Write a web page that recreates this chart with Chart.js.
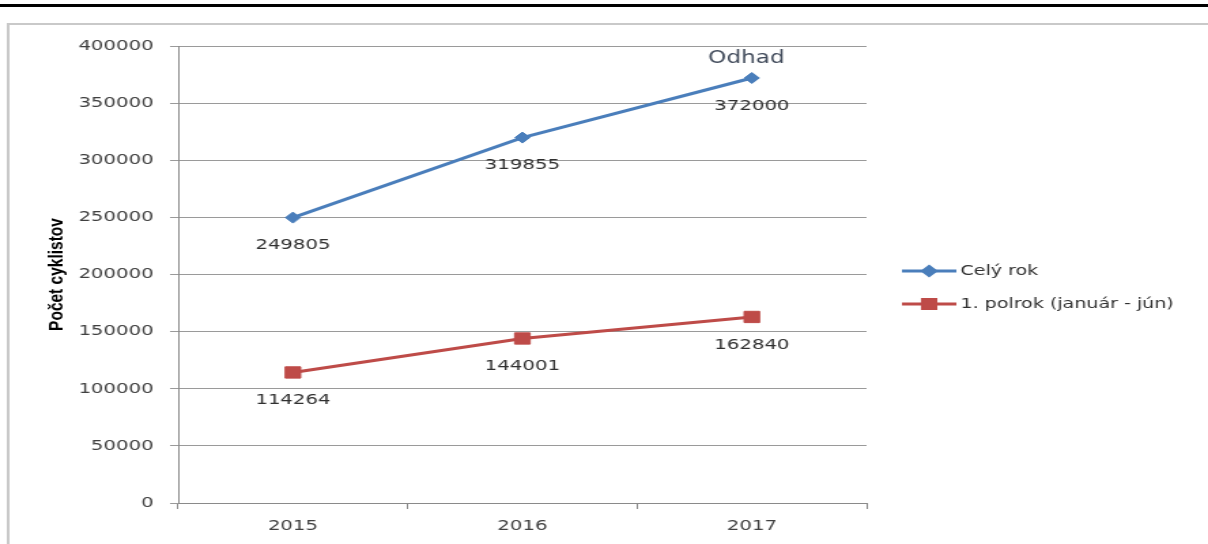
<!DOCTYPE html>
<html><head><meta charset="utf-8">
<script src="https://cdn.jsdelivr.net/npm/chart.js@4"></script>
<style>
html,body{margin:0;padding:0;background:#fff;overflow:hidden;width:1208px;height:544px;}
#wrap{position:absolute;left:0;top:0;width:888px;height:544px;transform:scaleX(1.3604);transform-origin:0 0;}
</style></head><body>
<div id="wrap"><canvas id="c"></canvas></div>
<script>
const categories = ['2015', '2016', '2017'];
const fullYear = [249805, 319855, 372000];
const firstHalf = [114264, 144001, 162840];
const seriesNames = ['Celý rok', '1. polrok (január - jún)'];
const fullYearNotes = ['', '', 'Odhad'];
const yMin = 0, yMax = 400000, yStep = 50000;
const axisTitle = 'Počet cyklistov';

const BLUE = '#4A7EBB', RED = '#BE4B48';
const FONT = 'DejaVu Sans';
const notes = [fullYearNotes, null];

const framePlugin = {
  id: 'frame',
  beforeDraw(chart) {
    const ctx = chart.ctx;
    ctx.save();
    ctx.fillStyle = '#fff';
    ctx.fillRect(0, 0, chart.width, chart.height);
    ctx.fillStyle = '#000';
    ctx.fillRect(0, 4, chart.width, 3);
    ctx.strokeStyle = '#c9c9c9';
    ctx.lineWidth = 2;
    ctx.beginPath();
    ctx.moveTo(6, chart.height + 5);
    ctx.lineTo(6, 24);
    ctx.lineTo(chart.width + 5, 24);
    ctx.stroke();
    ctx.restore();
  }
};

const valueLabelPlugin = {
  id: 'valueLabels',
  afterDatasetsDraw(chart) {
    const ctx = chart.ctx;
    ctx.save();
    chart.data.datasets.forEach((ds, i) => {
      const meta = chart.getDatasetMeta(i);
      meta.data.forEach((pt, j) => {
        ctx.fillStyle = '#303030';
        ctx.font = '14.5px "' + FONT + '"';
        ctx.textAlign = 'center';
        ctx.textBaseline = 'middle';
        ctx.fillText(String(ds.data[j]), pt.x, pt.y + 28);
        const n = notes[i];
        if (n && n[j]) {
          ctx.fillStyle = '#404a5a';
          ctx.font = '17px "' + FONT + '"';
          ctx.fillText(n[j], pt.x - 4, pt.y - 19);
        }
      });
    });
    ctx.restore();
  }
};

const legendPlugin = {
  id: 'sideLegend',
  afterDraw(chart) {
    const ctx = chart.ctx;
    ctx.save();
    const x0 = 663, x1 = 703, tx = 706;
    const ys = [271, 304];
    chart.data.datasets.forEach((ds, i) => {
      const y = ys[i];
      ctx.strokeStyle = ds.borderColor;
      ctx.lineWidth = 3;
      ctx.beginPath();
      ctx.moveTo(x0, y);
      ctx.lineTo(x1, y);
      ctx.stroke();
      Chart.helpers.drawPoint(ctx, {
        pointStyle: ds.pointStyle,
        radius: ds.pointRadius * 0.8,
        borderWidth: 1
      }, (x0 + x1) / 2, y);
      ctx.fillStyle = ds.backgroundColor;
      ctx.fill();
      ctx.fillStyle = '#303030';
      ctx.font = '14px "' + FONT + '"';
      ctx.textAlign = 'left';
      ctx.textBaseline = 'middle';
      ctx.fillText(ds.label, tx, y);
    });
    ctx.restore();
  }
};

new Chart(document.getElementById('c'), {
  type: 'line',
  data: {
    labels: categories,
    datasets: [
      {
        label: seriesNames[0], data: fullYear,
        borderColor: BLUE, backgroundColor: BLUE, borderWidth: 3,
        pointStyle: 'rectRot', pointRadius: 5.5, pointBorderWidth: 1,
        tension: 0
      },
      {
        label: seriesNames[1], data: firstHalf,
        borderColor: RED, backgroundColor: RED, borderWidth: 3,
        pointStyle: 'rect', pointRadius: 8, pointBorderWidth: 1,
        tension: 0
      }
    ]
  },
  options: {
    responsive: true,
    maintainAspectRatio: false,
    animation: false,
    devicePixelRatio: 1,
    layout: { padding: { left: 30, right: 251, top: 46, bottom: 0 } },
    plugins: { legend: { display: false }, tooltip: { enabled: false } },
    scales: {
      x: {
        type: 'category',
        offset: true,
        grid: { display: true, drawOnChartArea: false, drawTicks: true, tickLength: 6, offset: true, color: '#8a8a8a' },
        border: { display: true, color: '#8a8a8a', width: 1 },
        ticks: { color: '#404040', font: { family: FONT, size: 14.5 }, padding: 9, maxRotation: 0 },
        afterFit(scale) { scale.height = 41; }
      },
      y: {
        min: yMin, max: yMax,
        grid: { color: '#9a9a9a', lineWidth: 1, drawTicks: true, tickLength: 6 },
        border: { display: true, color: '#8a8a8a', width: 1 },
        ticks: {
          stepSize: yStep, color: '#404040', font: { family: FONT, size: 14.5 }, padding: 12,
          callback: (v) => String(v)
        },
        title: {
          display: true, text: axisTitle, color: '#000',
          font: { family: 'Liberation Sans', weight: 'bold', size: 15.5 },
          padding: { top: 2, bottom: 0 }
        },
        afterFit(scale) { scale.width = 101; }
      }
    }
  },
  plugins: [framePlugin, valueLabelPlugin, legendPlugin]
});
</script>
</body></html>
